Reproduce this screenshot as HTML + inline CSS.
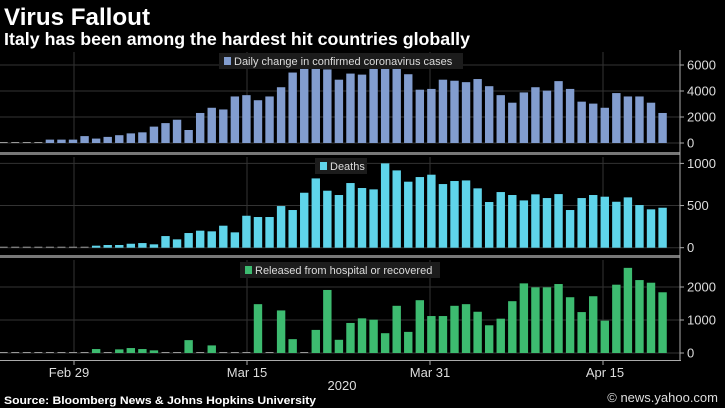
<!DOCTYPE html>
<html><head><meta charset="utf-8"><style>
html,body{margin:0;padding:0;background:#000;}
svg{display:block;font-family:"Liberation Sans",sans-serif;}
</style></head><body>
<svg id="c" width="725" height="408" viewBox="0 0 725 408" xmlns="http://www.w3.org/2000/svg">
<rect width="725" height="408" fill="#000"/>
<text x="4" y="25" fill="#fff" font-size="24" font-weight="bold" textLength="146" lengthAdjust="spacingAndGlyphs">Virus Fallout</text>
<text x="4" y="45" fill="#fff" font-size="17.5" font-weight="bold" textLength="466" lengthAdjust="spacingAndGlyphs">Italy has been among the hardest hit countries globally</text>
<text x="4" y="404" fill="#fff" font-size="11" font-weight="bold" textLength="312" lengthAdjust="spacingAndGlyphs">Source: Bloomberg News &amp; Johns Hopkins University</text>
<text x="718" y="402" fill="#ddd" font-size="13" text-anchor="end">© news.yahoo.com</text>
<g id="g"></g>
</svg>
<script>
var g=document.getElementById('g'),s='';
function X(i){return 49.9+11.56*i;}
var A=[0,0,0,0,260,260,260,530,340,470,600,740,820,1260,1530,1790,1000,2310,2710,2580,3580,3680,3290,3580,4290,5420,5740,5870,5660,4870,5340,5260,5740,6000,6050,5290,4100,4160,4870,4790,4680,4920,4370,3680,3100,3890,4290,4030,4760,4160,3180,3030,2710,3840,3580,3580,3100,2310];
var D=[0,0,0,0,3,3,3,3,3,3,3,3,24,32,32,47,55,40,138,99,174,202,194,261,182,379,364,364,494,447,652,822,676,625,767,708,692,1000,917,783,838,866,755,791,798,704,542,660,625,561,633,589,636,447,589,625,605,545,597,506,455,474];
var R=[0,0,0,0,40,0,0,0,120,30,110,150,120,80,40,10,390,40,230,0,0,0,1480,0,1290,420,0,700,1910,400,910,1050,1010,600,1430,640,1600,1120,1120,1430,1480,1250,840,1040,1570,2110,1990,1990,2090,1690,1240,1720,980,2070,2580,2210,2130,1840];
function panel(arr,off,base,sc,col,top,ticks,tl){
 for(var k=0;k<ticks.length;k++){var y=base-ticks[k]*sc;
  s+='<line x1="0" x2="680" y1="'+y+'" y2="'+y+'" stroke="#333" stroke-width="1"/>';
  s+='<line x1="680" x2="684" y1="'+y+'" y2="'+y+'" stroke="#aaa"/>';
  s+='<text x="687" y="'+(y+4.5)+'" fill="#ddd" font-size="13">'+tl[k]+'</text>';}
 [74,247,430,603].forEach(function(x){s+='<line x1="'+x+'" x2="'+x+'" y1="'+top+'" y2="'+base+'" stroke="#333"/>';});
 for(var j=0;j<arr.length;j++){var i=j-off;var v=arr[j];var h=v*sc;var x=X(i);
  if(h<1.5){s+='<line x1="'+(x-4)+'" x2="'+(x+4)+'" y1="'+(base-0.5)+'" y2="'+(base-0.5)+'" stroke="#999" stroke-width="1"/>';}
  else s+='<rect x="'+(x-4.2)+'" y="'+(base-h)+'" width="8.4" height="'+h+'" fill="'+col+'"/>';}
}
panel(A,4,143,0.013,'#829dcf',52,[0,2000,4000,6000],['0','2000','4000','6000']);
panel(D,8,247.7,0.0843,'#5fd4ea',157,[0,500,1000],['0','500','1000']);
panel(R,4,353,0.033,'#3dbb70',260,[0,1000,2000],['0','1000','2000']);
s+='<rect x="219" y="53" width="244" height="16" fill="#1c1c1c"/><rect x="224" y="57" width="7" height="8" fill="#829dcf"/><text x="234" y="65" fill="#ddd" font-size="11">Daily change in confirmed coronavirus cases</text>';
s+='<rect x="315" y="158" width="52" height="16" fill="#1c1c1c"/><rect x="320" y="162" width="7" height="8" fill="#5fd4ea"/><text x="330" y="170" fill="#ddd" font-size="11">Deaths</text>';
s+='<rect x="240" y="262" width="200" height="16" fill="#1c1c1c"/><rect x="245" y="266" width="7" height="8" fill="#3dbb70"/><text x="255" y="274" fill="#ddd" font-size="11">Released from hospital or recovered</text>';
s+='<rect x="0" y="152" width="680" height="3" fill="#777"/><rect x="0" y="255" width="680" height="3" fill="#777"/>';
s+='<line x1="680" x2="680" y1="50" y2="361" stroke="#aaa"/><line x1="0" x2="681" y1="360.5" y2="360.5" stroke="#aaa"/>';
[74,247,430,603].forEach(function(x){s+='<line x1="'+x+'" x2="'+x+'" y1="360" y2="365" stroke="#aaa"/>';});
[[69,'Feb 29'],[247,'Mar 15'],[430,'Mar 31'],[605,'Apr 15']].forEach(function(p){s+='<text x="'+p[0]+'" y="377" fill="#ddd" font-size="13" text-anchor="middle">'+p[1]+'</text>';});
s+='<text x="342" y="390" fill="#ddd" font-size="13" text-anchor="middle">2020</text>';
g.innerHTML=s;
</script>
</body></html>
